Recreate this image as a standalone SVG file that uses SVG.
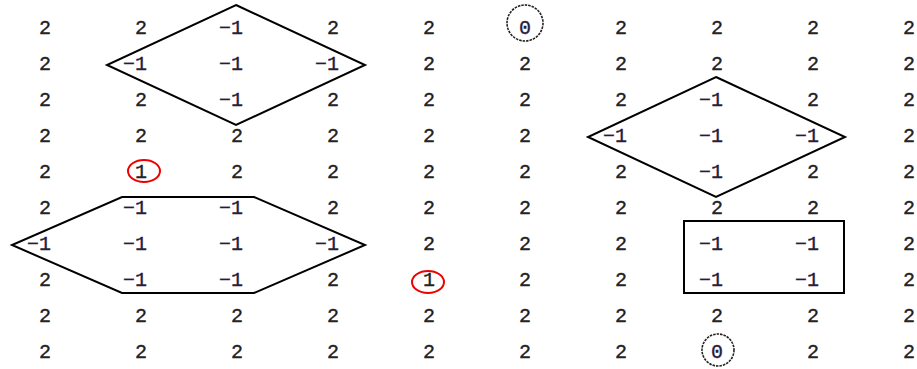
<svg xmlns="http://www.w3.org/2000/svg" width="917" height="369" viewBox="0 0 917 369">
<style>
.t{font-family:"Liberation Mono","DejaVu Sans Mono",monospace;font-size:20px;fill:#222;stroke:#222;stroke-width:0.35;text-anchor:end}
.m{fill:#2a1a3a;stroke:#2a1a3a}
.s{fill:none;stroke:#000;stroke-width:2}
.r{fill:none;stroke:#e00;stroke-width:2}
.d{fill:none;stroke:#222;stroke-width:1.6;stroke-dasharray:2.5 1}
</style>
<rect width="917" height="369" fill="#fff"/>
<g id="shapes">
<polygon id="diamond1" class="s" points="236,5 365,65 236,125 107,65"/>
<polygon id="hexagon" class="s" points="122,197 254,197 365,245 254,293 122,293 12,245"/>
<polygon id="diamond2" class="s" points="716,77 845,137 716,197 588,137"/>
<rect id="square" class="s" x="684" y="221" width="160" height="72"/>
<ellipse id="red1" class="r" cx="144" cy="171" rx="16" ry="11"/>
<ellipse id="red2" class="r" cx="428" cy="282" rx="16" ry="11"/>
<circle id="zero1" class="d" cx="525" cy="23" r="18"/>
<circle id="zero2" class="d" cx="718" cy="350" r="16"/>
</g>
<g id="connectors"></g>
<g id="grid">
<g transform="translate(0,34)">
<text class="t" x="51" y="0">2</text><text class="t" x="147" y="0">2</text><text class="t m" x="243" y="0">−1</text><text class="t" x="339" y="0">2</text><text class="t" x="435" y="0">2</text><text class="t m" x="531" y="0">0</text><text class="t" x="627" y="0">2</text><text class="t" x="723" y="0">2</text><text class="t" x="819" y="0">2</text><text class="t" x="915" y="0">2</text>
</g>
<g transform="translate(0,70)">
<text class="t" x="51" y="0">2</text><text class="t m" x="147" y="0">−1</text><text class="t m" x="243" y="0">−1</text><text class="t m" x="339" y="0">−1</text><text class="t" x="435" y="0">2</text><text class="t" x="531" y="0">2</text><text class="t" x="627" y="0">2</text><text class="t" x="723" y="0">2</text><text class="t" x="819" y="0">2</text><text class="t" x="915" y="0">2</text>
</g>
<g transform="translate(0,106)">
<text class="t" x="51" y="0">2</text><text class="t" x="147" y="0">2</text><text class="t m" x="243" y="0">−1</text><text class="t" x="339" y="0">2</text><text class="t" x="435" y="0">2</text><text class="t" x="531" y="0">2</text><text class="t" x="627" y="0">2</text><text class="t m" x="723" y="0">−1</text><text class="t" x="819" y="0">2</text><text class="t" x="915" y="0">2</text>
</g>
<g transform="translate(0,142)">
<text class="t" x="51" y="0">2</text><text class="t" x="147" y="0">2</text><text class="t" x="243" y="0">2</text><text class="t" x="339" y="0">2</text><text class="t" x="435" y="0">2</text><text class="t" x="531" y="0">2</text><text class="t m" x="627" y="0">−1</text><text class="t m" x="723" y="0">−1</text><text class="t m" x="819" y="0">−1</text><text class="t" x="915" y="0">2</text>
</g>
<g transform="translate(0,178)">
<text class="t" x="51" y="0">2</text><text class="t" x="147" y="0">1</text><text class="t" x="243" y="0">2</text><text class="t" x="339" y="0">2</text><text class="t" x="435" y="0">2</text><text class="t" x="531" y="0">2</text><text class="t" x="627" y="0">2</text><text class="t m" x="723" y="0">−1</text><text class="t" x="819" y="0">2</text><text class="t" x="915" y="0">2</text>
</g>
<g transform="translate(0,214)">
<text class="t" x="51" y="0">2</text><text class="t m" x="147" y="0">−1</text><text class="t m" x="243" y="0">−1</text><text class="t" x="339" y="0">2</text><text class="t" x="435" y="0">2</text><text class="t" x="531" y="0">2</text><text class="t" x="627" y="0">2</text><text class="t" x="723" y="0">2</text><text class="t" x="819" y="0">2</text><text class="t" x="915" y="0">2</text>
</g>
<g transform="translate(0,250)">
<text class="t m" x="51" y="0">−1</text><text class="t m" x="147" y="0">−1</text><text class="t m" x="243" y="0">−1</text><text class="t m" x="339" y="0">−1</text><text class="t" x="435" y="0">2</text><text class="t" x="531" y="0">2</text><text class="t" x="627" y="0">2</text><text class="t m" x="723" y="0">−1</text><text class="t m" x="819" y="0">−1</text><text class="t" x="915" y="0">2</text>
</g>
<g transform="translate(0,286)">
<text class="t" x="51" y="0">2</text><text class="t m" x="147" y="0">−1</text><text class="t m" x="243" y="0">−1</text><text class="t" x="339" y="0">2</text><text class="t" x="435" y="0">1</text><text class="t" x="531" y="0">2</text><text class="t" x="627" y="0">2</text><text class="t m" x="723" y="0">−1</text><text class="t m" x="819" y="0">−1</text><text class="t" x="915" y="0">2</text>
</g>
<g transform="translate(0,322)">
<text class="t" x="51" y="0">2</text><text class="t" x="147" y="0">2</text><text class="t" x="243" y="0">2</text><text class="t" x="339" y="0">2</text><text class="t" x="435" y="0">2</text><text class="t" x="531" y="0">2</text><text class="t" x="627" y="0">2</text><text class="t" x="723" y="0">2</text><text class="t" x="819" y="0">2</text><text class="t" x="915" y="0">2</text>
</g>
<g transform="translate(0,358)">
<text class="t" x="51" y="0">2</text><text class="t" x="147" y="0">2</text><text class="t" x="243" y="0">2</text><text class="t" x="339" y="0">2</text><text class="t" x="435" y="0">2</text><text class="t" x="531" y="0">2</text><text class="t" x="627" y="0">2</text><text class="t m" x="723" y="0">0</text><text class="t" x="819" y="0">2</text><text class="t" x="915" y="0">2</text>
</g>
</g>
</svg>
